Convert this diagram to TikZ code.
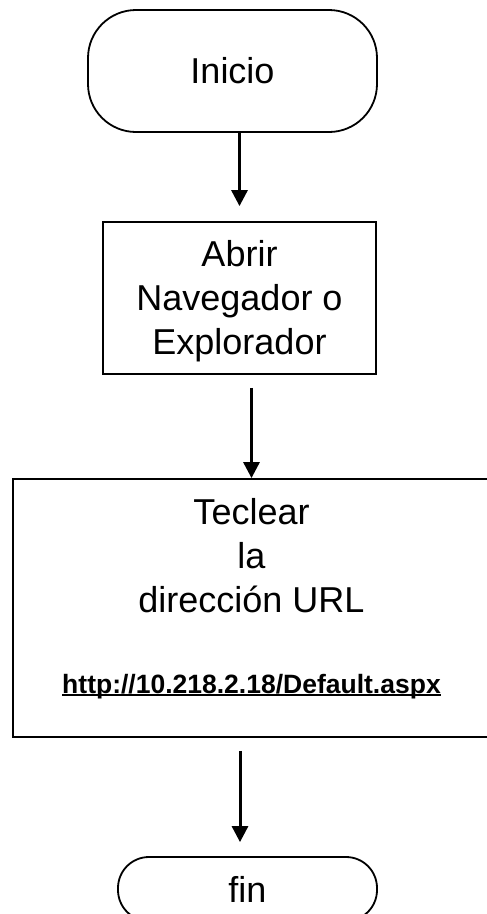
\documentclass[tikz,border=0pt]{standalone}
\usepackage{fontspec}
\setmainfont{Liberation Sans}
\usetikzlibrary{arrows.meta}
\newcommand{\subraya}[1]{\setbox0\hbox{#1}\rlap{\rule[-3pt]{\wd0}{1.6pt}}\box0}
\tikzset{
  terminal/.style={draw, line width=1.8pt, rounded corners=#1, font=\fontsize{36}{44}\selectfont},
  caja/.style={draw, line width=1.8pt, align=center, font=\fontsize{36}{44}\selectfont},
  flecha/.style={line width=3pt, -{Triangle[width=16pt,length=16pt]}}
}
\begin{document}
\begin{tikzpicture}[x=1pt,y=-1pt]
\useasboundingbox (0,0) rectangle (487,914);

\node[terminal=48pt, minimum width=289pt, minimum height=122pt] (inicio) at (232.5,71) {Inicio};
\node[caja, minimum width=273pt, minimum height=152pt] (abrir) at (239.5,298) {\rule{0pt}{32pt}Abrir\\Navegador o\\Explorador};
\node[caja, minimum width=477pt, minimum height=258pt] (teclear) at (251.5,608)
  {Teclear\\la\\dirección URL\\[37pt]{\fontsize{26.5}{30}\selectfont\bfseries\subraya{http://10.218.2.18/Default.aspx}}\rule[-25pt]{0pt}{0pt}};
\node[terminal=31pt, minimum width=259pt, minimum height=64pt] (fin) at (247.5,889) {fin};

\draw[flecha, shorten >=15pt] (inicio.south -| abrir.north) -- (abrir.north);
\draw[flecha, shorten <=13pt] (abrir.south -| teclear.north) -- (teclear.north);
\draw[flecha, shorten <=13pt, shorten >=14pt] ([xshift=-7.5pt]fin.north |- teclear.south) -- ([xshift=-7.5pt]fin.north);

\end{tikzpicture}
\end{document}
